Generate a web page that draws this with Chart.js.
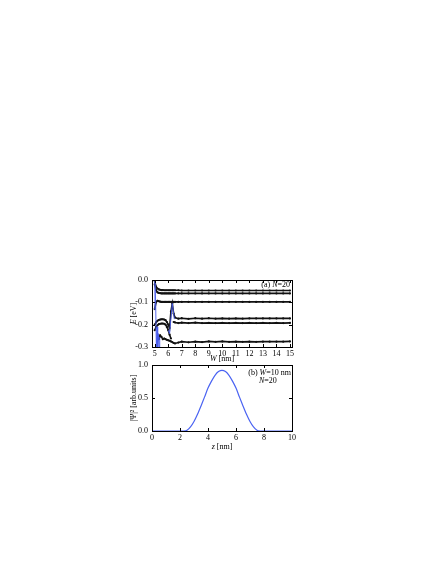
<!DOCTYPE html>
<html>
<head>
<meta charset="utf-8">
<script src="https://cdn.jsdelivr.net/npm/chart.js@4.4.1/dist/chart.umd.min.js"></script>
<style>
  html, body { margin: 0; padding: 0; background: #fff; }
  body { width: 436px; height: 564px; position: relative; overflow: hidden; }
  canvas { position: absolute; }
  #topChart { left: 110px; top: 268px; }
  #botChart { left: 110px; top: 353px; }
</style>
</head>
<body>
<canvas id="topChart" width="190" height="96"></canvas>
<canvas id="botChart" width="190" height="100"></canvas>
<script>
// (a) energy levels vs well width W, N=20
const wTop = [5.0, 5.1, 5.2, 5.3, 5.4, 5.5, 5.6, 5.7, 5.8, 5.9, 6.0, 6.1, 6.2, 6.3, 6.4, 6.5, 6.75,
              7.0, 7.5, 8.0, 8.5, 9.0, 9.5, 10.0, 10.5, 11.0, 11.5, 12.0, 12.5, 13.0, 13.5, 14.0, 14.5, 15.0];
const level1 = [-0.005, -0.03, -0.038, -0.042, -0.044, -0.045, -0.045, -0.046, -0.046, -0.046, -0.046, -0.046, -0.046, -0.046, -0.046, -0.046, -0.046,
                -0.047, -0.047, -0.047, -0.047, -0.047, -0.047, -0.047, -0.047, -0.047, -0.047, -0.047, -0.047, -0.047, -0.047, -0.047, -0.047, -0.047];
const level2 = [-0.02, -0.045, -0.055, -0.058, -0.059, -0.06, -0.06, -0.06, -0.06, -0.06, -0.06, -0.06, -0.06, -0.06, -0.06, -0.06, -0.06,
                -0.06, -0.06, -0.06, -0.06, -0.06, -0.06, -0.06, -0.06, -0.06, -0.06, -0.06, -0.06, -0.06, -0.06, -0.06, -0.06, -0.06];
const level3 = [-0.13, -0.1, -0.093, -0.095, -0.097, -0.098, -0.098, -0.098, -0.098, -0.098, -0.098, -0.098, -0.098, -0.098, -0.098, -0.098, -0.098,
                -0.098, -0.098, -0.098, -0.098, -0.098, -0.098, -0.098, -0.098, -0.098, -0.098, -0.098, -0.098, -0.098, -0.098, -0.098, -0.098, -0.098];
const level4 = [-0.2, -0.19, -0.183, -0.179, -0.177, -0.176, -0.176, -0.177, -0.18, -0.188, -0.2, -0.215, -0.14, -0.105, -0.15, -0.168, -0.173,
                -0.171, -0.174, -0.171, -0.173, -0.171, -0.173, -0.172, -0.173, -0.172, -0.173, -0.172, -0.172, -0.172, -0.172, -0.172, -0.172, -0.172];
const level5 = [-0.225, -0.21, -0.203, -0.198, -0.196, -0.195, -0.195, -0.196, -0.2, -0.21, -0.225, -0.245, -0.262, null, -0.188, -0.19, -0.193,
                -0.191, -0.193, -0.191, -0.193, -0.192, -0.193, -0.192, -0.193, -0.192, -0.193, -0.192, -0.193, -0.192, -0.193, -0.192, -0.193, -0.192];
const level6 = [null, null, null, -0.265, -0.248, -0.255, -0.265, -0.262, -0.265, -0.268, -0.27, -0.272, -0.275, -0.278, -0.282, -0.284, -0.28,
                -0.276, -0.279, -0.276, -0.278, -0.275, -0.277, -0.275, -0.277, -0.276, -0.277, -0.276, -0.277, -0.276, -0.276, -0.276, -0.276, -0.275];
const trackW1 = [4.97, 5.02, 5.07, 5.12, 5.17, 5.22, 5.27, 5.32, 5.37];
const trackE1 = [-0.13, -0.005, -0.1, -0.3, -0.21, -0.3, -0.24, -0.3, -0.255];
const trackW2 = [6.0, 6.1, 6.3, 6.45];
const trackE2 = [-0.225, -0.24, -0.105, -0.175];
const wTicks = [5, 6, 7, 8, 9, 10, 11, 12, 13, 14, 15];
const eTicks = [0, -0.1, -0.2, -0.3];

// (b) probability density at W=10 nm
const zVals = [0, 0.25, 0.5, 0.75, 1, 1.25, 1.5, 1.75, 2, 2.25, 2.5, 2.75, 3, 3.25, 3.5, 3.75, 4, 4.25, 4.5, 4.75, 5,
               5.25, 5.5, 5.75, 6, 6.25, 6.5, 6.75, 7, 7.25, 7.5, 7.75, 8, 8.25, 8.5, 8.75, 9, 9.25, 9.5, 9.75, 10];
const psi2 = [0, 0, 0, 0, 0, 0, 0, 0, 0, 0, 0.012, 0.062, 0.144, 0.254, 0.38, 0.513, 0.65, 0.756, 0.844, 0.9, 0.92,
              0.9, 0.844, 0.756, 0.65, 0.513, 0.38, 0.254, 0.144, 0.062, 0.012, 0, 0, 0, 0, 0, 0, 0, 0, 0, 0];
const zTicks = [0, 2, 4, 6, 8, 10];
const psiTicks = [0, 0.5, 1];

const FONT = '8px "Liberation Serif"';
Chart.defaults.font.family = '"Liberation Serif", serif';
Chart.defaults.font.size = 8;
Chart.defaults.color = '#000';

const pts = (xs, ys) => xs.map((x, i) => ({ x: x, y: ys[i] }));

function drawParts(ctx, parts, x, y, align, angle) {
    ctx.save();
    ctx.translate(x, y);
    if (angle) ctx.rotate(angle);
    ctx.textBaseline = 'middle';
    ctx.textAlign = 'left';
    ctx.fillStyle = '#000';
    let total = 0;
    parts.forEach(p => { ctx.font = (p[1] ? 'italic ' : '') + FONT; total += ctx.measureText(p[0]).width; });
    let cx = align === 'right' ? -total : (align === 'center' ? -total / 2 : 0);
    parts.forEach(p => {
        ctx.font = (p[1] ? 'italic ' : '') + FONT;
        ctx.fillText(p[0], cx, 0);
        cx += ctx.measureText(p[0]).width;
    });
    ctx.restore();
}

// box frame with inward ticks on all four sides, plus labels
function framePlugin(labels) {
    return {
        id: 'frame',
        afterDraw(chart) {
            const ctx = chart.ctx;
            const a = chart.chartArea;
            const xs = chart.scales.x, ys = chart.scales.y;
            ctx.save();
            ctx.strokeStyle = '#000';
            ctx.lineWidth = 1;
            ctx.strokeRect(Math.round(a.left) + 0.5, Math.round(a.top) + 0.5,
                           Math.round(a.right - a.left), Math.round(a.bottom - a.top));
            ctx.beginPath();
            xs.ticks.forEach(t => {
                const px = Math.round(xs.getPixelForValue(t.value)) + 0.5;
                ctx.moveTo(px, a.bottom); ctx.lineTo(px, a.bottom - 3);
                ctx.moveTo(px, a.top); ctx.lineTo(px, a.top + 3);
            });
            ys.ticks.forEach(t => {
                const py = Math.round(ys.getPixelForValue(t.value)) + 0.5;
                ctx.moveTo(a.left, py); ctx.lineTo(a.left + 3, py);
                ctx.moveTo(a.right, py); ctx.lineTo(a.right - 3, py);
            });
            ctx.stroke();
            ctx.restore();
            labels.forEach(l => drawParts(ctx, l.parts, l.x, l.y, l.align, l.angle));
        }
    };
}

function levelSet(ys) {
    return {
        data: pts(wTop, ys),
        showLine: true,
        borderColor: '#111',
        backgroundColor: '#111',
        borderWidth: 1.6,
        pointRadius: 1.1,
        pointBorderWidth: 0,
        spanGaps: false
    };
}

function trackSet(xs, ys) {
    return {
        data: pts(xs, ys),
        showLine: true,
        borderColor: 'rgba(70,90,235,0.9)',
        borderWidth: 1,
        pointRadius: 0
    };
}

new Chart(document.getElementById('topChart'), {
    type: 'scatter',
    data: {
        datasets: [
            trackSet(trackW1, trackE1),
            trackSet(trackW2, trackE2),
            levelSet(level1),
            levelSet(level2),
            levelSet(level3),
            levelSet(level4),
            levelSet(level5),
            levelSet(level6)
        ]
    },
    options: {
        responsive: false,
        animation: false,
        devicePixelRatio: 1,
        layout: { padding: { top: 12, right: 8, left: 0, bottom: 0 } },
        plugins: { legend: { display: false }, tooltip: { enabled: false } },
        scales: {
            x: {
                type: 'linear', min: 4.8, max: 15.15,
                grid: { display: false, drawTicks: false },
                border: { display: false },
                ticks: { padding: 2, maxRotation: 0, callback: v => String(v) },
                afterBuildTicks: s => { s.ticks = wTicks.map(v => ({ value: v })); },
                afterFit: s => { s.height = 17; }
            },
            y: {
                type: 'linear', min: -0.3, max: 0,
                grid: { display: false, drawTicks: false },
                border: { display: false },
                ticks: { padding: 4, callback: v => v.toFixed(1) },
                afterBuildTicks: s => { s.ticks = eTicks.map(v => ({ value: v })); },
                afterFit: s => { s.width = 42; }
            }
        }
    },
    plugins: [framePlugin([
        { parts: [['E', true], [' [eV]', false]], x: 24, y: 45.5, align: 'center', angle: -Math.PI / 2 },
        { parts: [['W', true], [' [nm]', false]], x: 112, y: 91, align: 'center' },
        { parts: [['(a) ', false], ['N', true], ['=20', false]], x: 180, y: 17, align: 'right' }
    ])]
});

new Chart(document.getElementById('botChart'), {
    type: 'scatter',
    data: {
        datasets: [{
            data: pts(zVals, psi2),
            showLine: true,
            borderColor: '#4a63f2',
            borderWidth: 1.2,
            pointRadius: 0,
            tension: 0.3
        }]
    },
    options: {
        responsive: false,
        animation: false,
        devicePixelRatio: 1,
        layout: { padding: { top: 12, right: 8, left: 0, bottom: 0 } },
        plugins: { legend: { display: false }, tooltip: { enabled: false } },
        scales: {
            x: {
                type: 'linear', min: 0, max: 10,
                grid: { display: false, drawTicks: false },
                border: { display: false },
                ticks: { padding: 2, maxRotation: 0, callback: v => String(v) },
                afterBuildTicks: s => { s.ticks = zTicks.map(v => ({ value: v })); },
                afterFit: s => { s.height = 22; }
            },
            y: {
                type: 'linear', min: 0, max: 1,
                grid: { display: false, drawTicks: false },
                border: { display: false },
                ticks: { padding: 4, callback: v => v.toFixed(1) },
                afterBuildTicks: s => { s.ticks = psiTicks.map(v => ({ value: v })); },
                afterFit: s => { s.width = 42; }
            }
        }
    },
    plugins: [framePlugin([
        { parts: [['|\u03A8|\u00B2 [arb.units]', false]], x: 24, y: 45, align: 'center', angle: -Math.PI / 2 },
        { parts: [['z', true], [' [nm]', false]], x: 112, y: 94, align: 'center' },
        { parts: [['(b) ', false], ['W', true], ['=10 nm', false]], x: 181, y: 20, align: 'right' },
        { parts: [['N', true], ['=20', false]], x: 149, y: 28, align: 'left' }
    ])]
});
</script>
</body>
</html>
